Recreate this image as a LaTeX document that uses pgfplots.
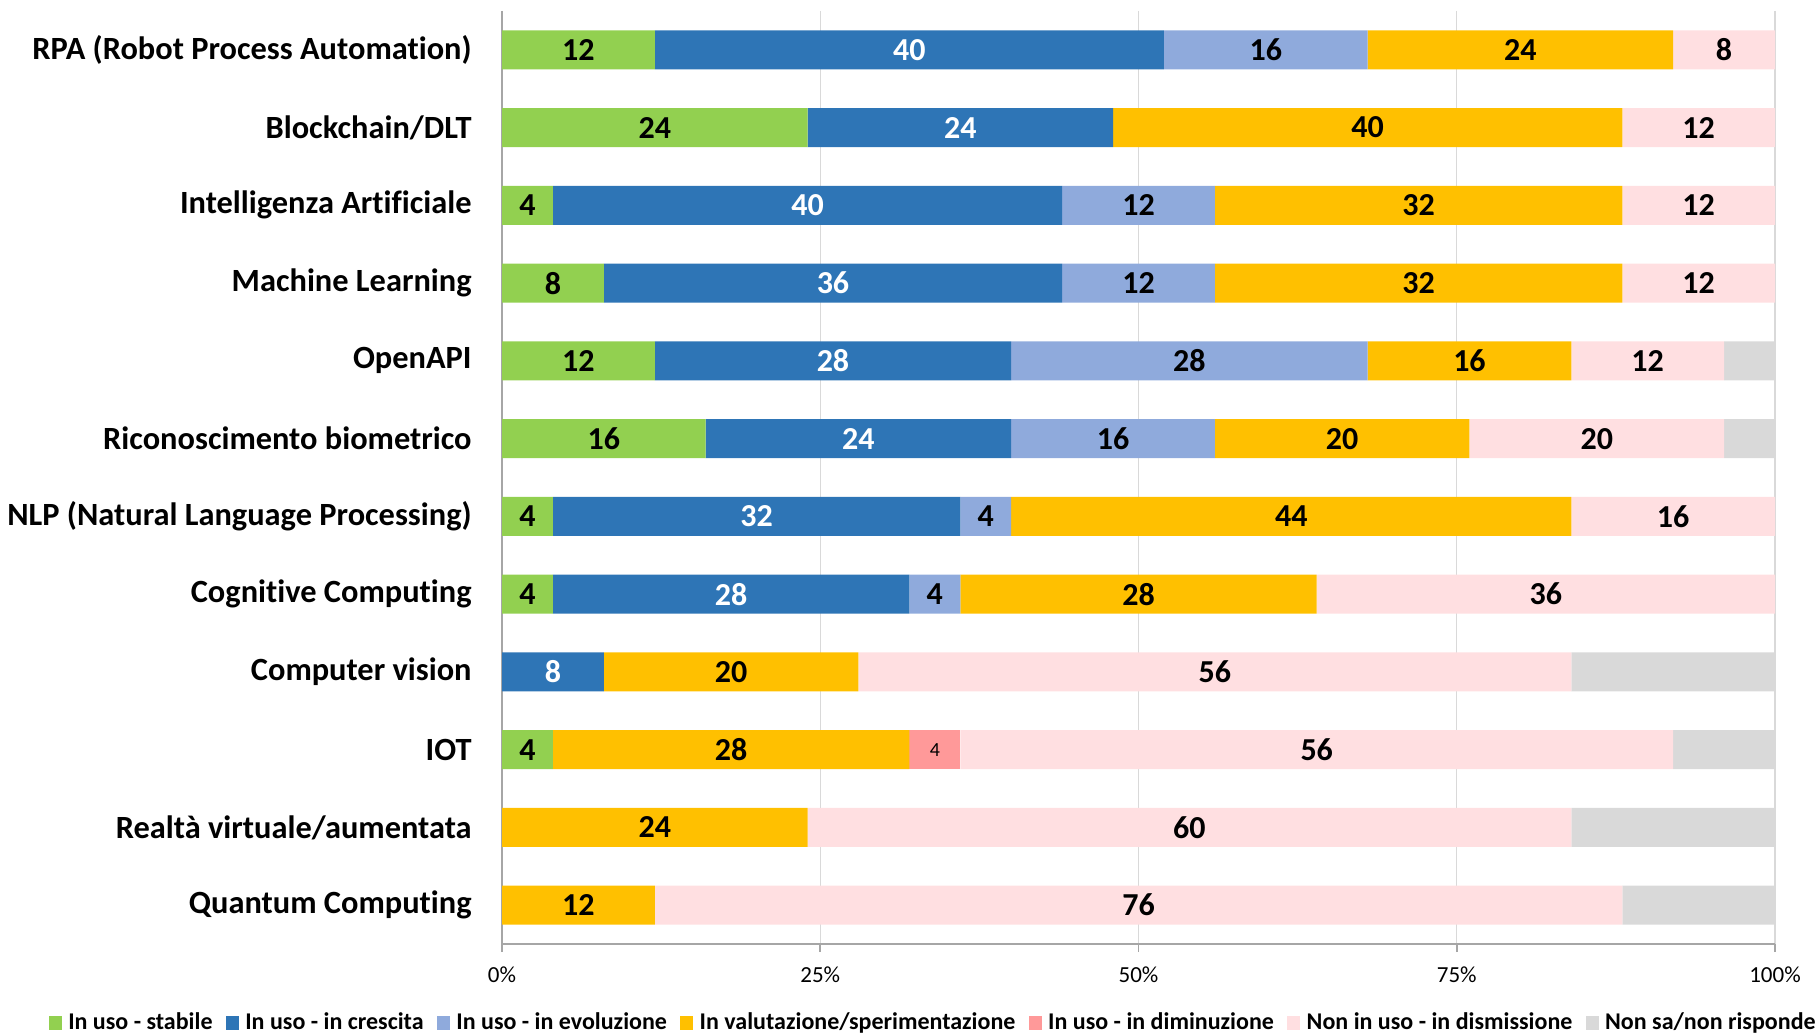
\documentclass[border=0pt]{standalone}
\usepackage{fontspec}
\setmainfont{Carlito}[Ligatures={NoCommon}]
\usepackage{pgfplots}
\usepackage{pgfplotstable}
\pgfplotsset{compat=1.18}
\definecolor{cst}{HTML}{92D050}
\definecolor{ccr}{HTML}{2E75B6}
\definecolor{cev}{HTML}{8FAADC}
\definecolor{cva}{HTML}{FFC000}
\definecolor{cdi}{HTML}{FF9999}
\definecolor{cdm}{HTML}{FFDFE1}
\definecolor{cns}{HTML}{D9D9D9}
\definecolor{axgray}{HTML}{A6A6A6}
\pgfplotstableread{
c  st  cr  ev  va  di  dm  ns
0  12  40  16  24  0   8   0
1  24  24  0   40  0   12  0
2  4   40  12  32  0   12  0
3  8   36  12  32  0   12  0
4  12  28  28  16  0   12  4
5  16  24  16  20  0   20  4
6  4   32  4   44  0   16  0
7  4   28  4   28  0   36  0
8  0   8   0   20  0   56  16
9  4   0   0   28  4   56  8
10 0   0   0   24  0   60  16
11 0   0   0   12  0   76  12
}\data
\begin{document}
\begin{tikzpicture}
\path[use as bounding box] (0,0) rectangle (909.5pt,518pt);
\begin{axis}[
  at={(251pt,46pt)}, anchor=south west,
  scale only axis, width=636.5pt, height=466.5pt,
  xbar stacked, bar width=0.5,
  xmin=0, xmax=100, ymin=-0.5, ymax=11.5, y dir=reverse,
  axis x line*=bottom, axis y line*=left,
  axis line style={draw=axgray, line width=0.8pt},
  xtick={0,25,50,75,100},
  xticklabels={0\%,25\%,50\%,75\%,100\%},
  tick align=outside, major tick length=4pt,
  xtick style={draw=axgray, line width=0.8pt},
  ytick={0,...,11},
  yticklabels={RPA (Robot Process Automation),Blockchain/DLT,Intelligenza Artificiale,Machine Learning,OpenAPI,Riconoscimento biometrico,NLP (Natural Language Processing),Cognitive Computing,Computer vision,IOT,Realtà virtuale/aumentata,Quantum Computing},
  ytick style={draw=none},
  xmajorgrids, grid style={draw=cns, line width=0.6pt},
  xticklabel style={font=\fontsize{11.5}{13}\selectfont, anchor=base, yshift=-15pt},
  yticklabel style={font=\bfseries\fontsize{16.2}{19}\selectfont, anchor=east, inner xsep=0pt, xshift=-11pt},
  point meta=explicit symbolic,
  nodes near coords={\ifnum\pgfplotspointmeta=0 \else\pgfplotspointmeta\fi},
  every node near coord/.append style={font=\bfseries\fontsize{16}{18}\selectfont, text=black},
  legend columns=7,
  legend style={draw=none, fill=none, at={(0.3405,-0.0847)}, anchor=center,
    font=\bfseries\fontsize{12}{14}\selectfont,
    /tikz/every even column/.append style={column sep=3.5pt},
    nodes={inner xsep=3.2pt}},
  legend image code/.code={\fill[#1] (0pt,-3.7pt) rectangle (6.5pt,3.7pt);},
]
\addplot[fill=cst, draw=none] table[x=st, y=c, meta=st] {\data};
\addlegendentry{In uso - stabile}
\addplot[fill=ccr, draw=none, every node near coord/.append style={text=white}] table[x=cr, y=c, meta=cr] {\data};
\addlegendentry{In uso - in crescita}
\addplot[fill=cev, draw=none] table[x=ev, y=c, meta=ev] {\data};
\addlegendentry{In uso - in evoluzione}
\addplot[fill=cva, draw=none] table[x=va, y=c, meta=va] {\data};
\addlegendentry{In valutazione/sperimentazione}
\addplot[fill=cdi, draw=none, every node near coord/.append style={font=\fontsize{10}{12}\selectfont}] table[x=di, y=c, meta=di] {\data};
\addlegendentry{In uso - in diminuzione}
\addplot[fill=cdm, draw=none] table[x=dm, y=c, meta=dm] {\data};
\addlegendentry{Non in uso - in dismissione}
\addplot[fill=cns, draw=none, nodes near coords={}] table[x=ns, y=c, meta=ns] {\data};
\addlegendentry{Non sa/non risponde}
\end{axis}
\end{tikzpicture}
\end{document}
